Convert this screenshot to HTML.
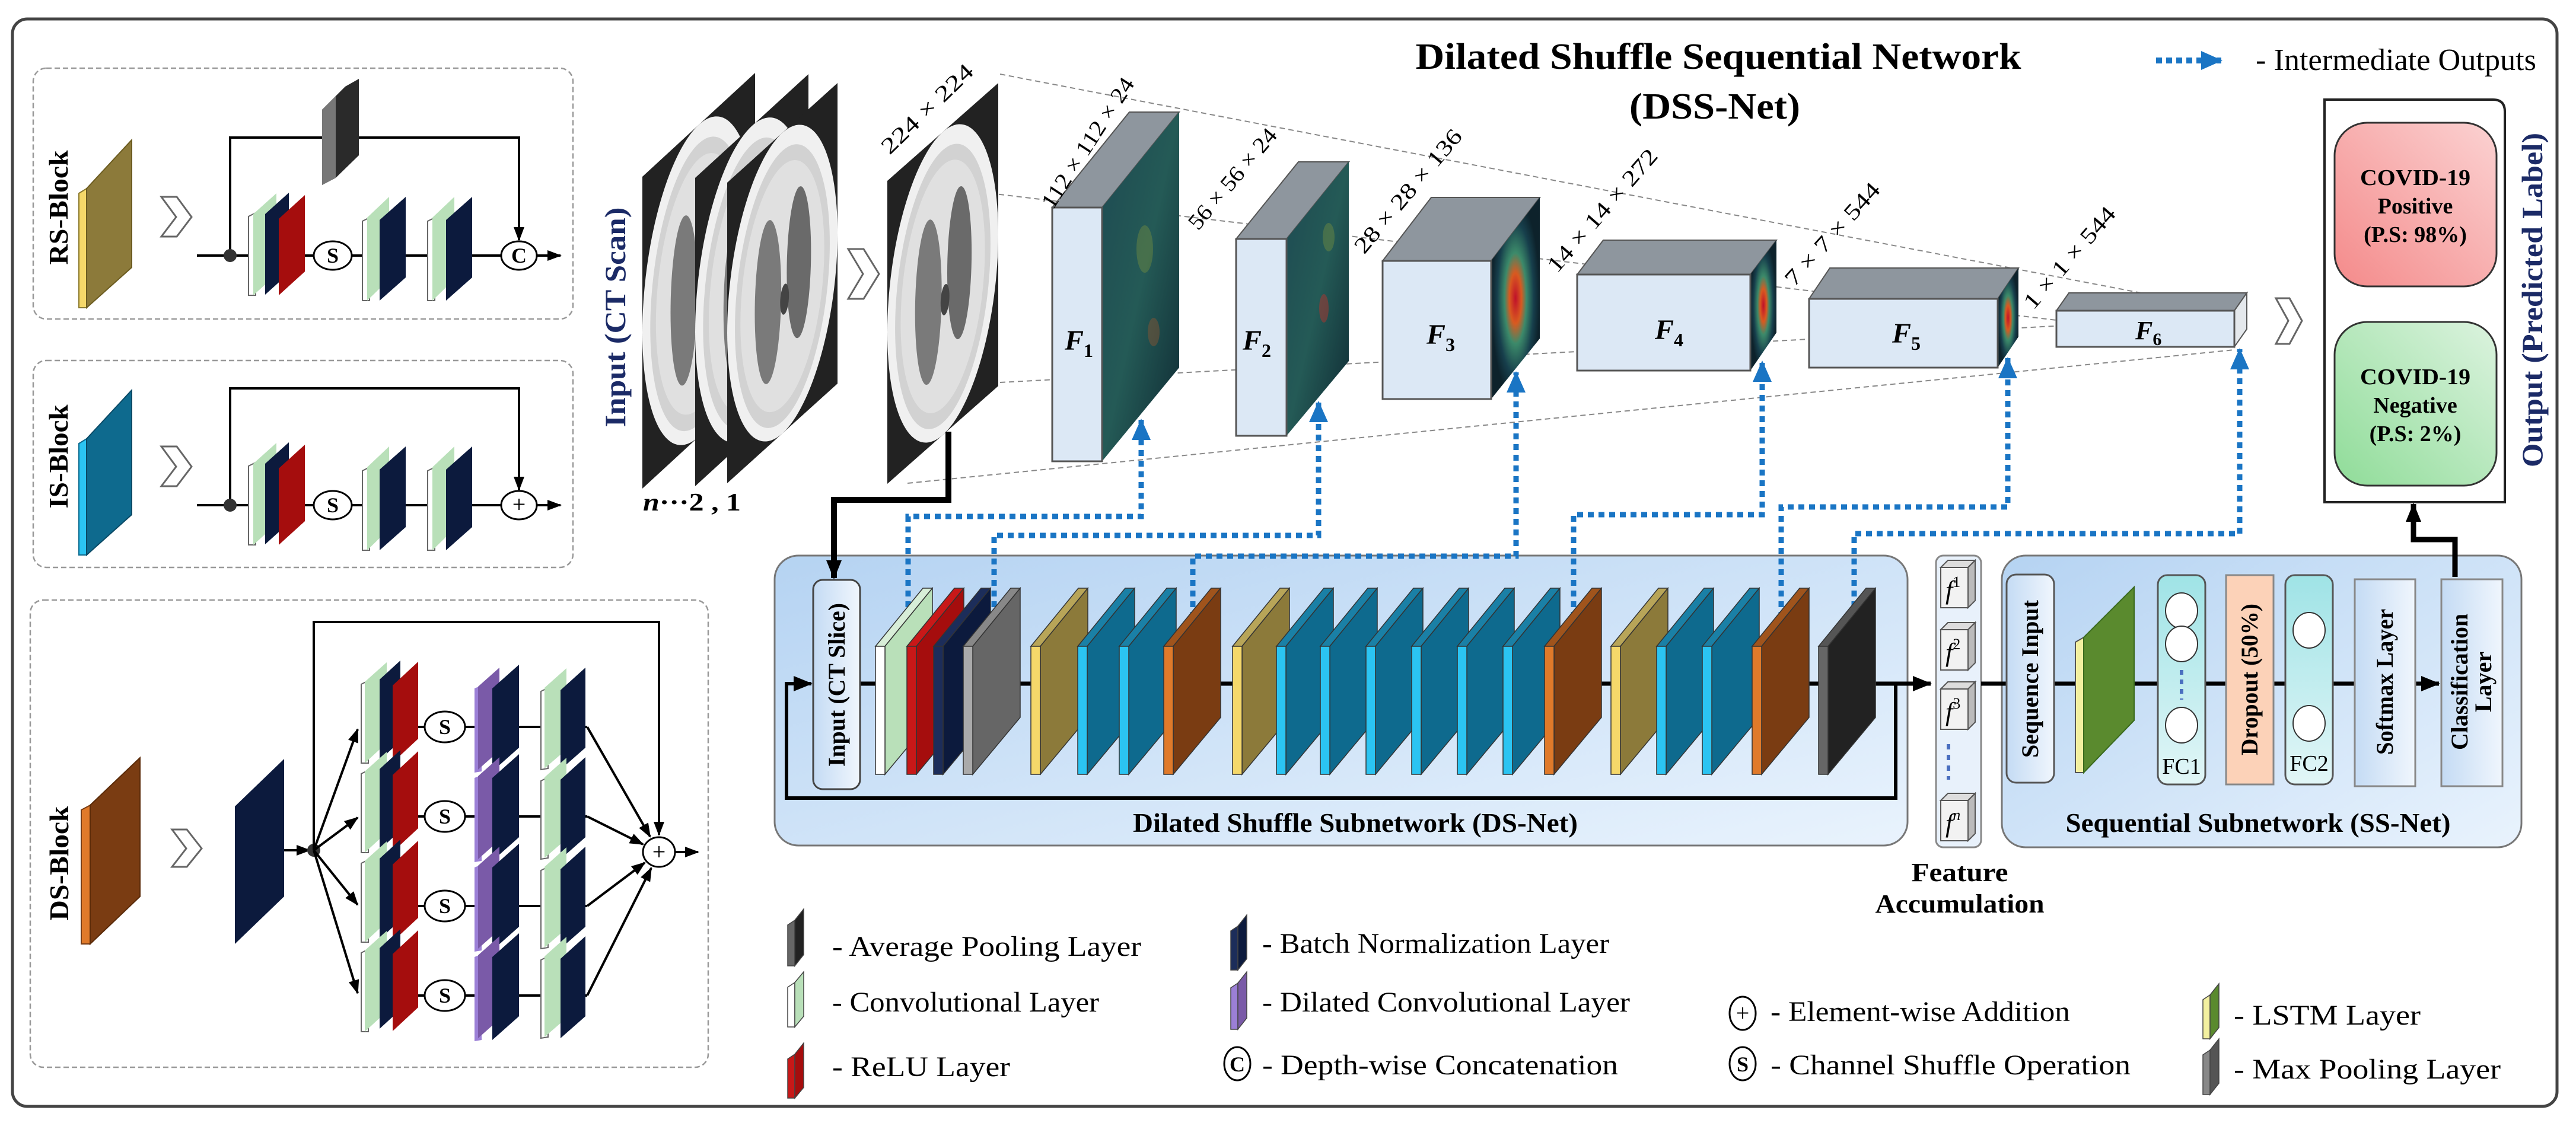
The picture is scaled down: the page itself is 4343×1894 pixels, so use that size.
<!DOCTYPE html>
<html><head><meta charset="utf-8"><style>
html,body{margin:0;padding:0;background:#fff}
svg{display:block}
svg, text{font-family:"Liberation Serif","DejaVu Serif",serif !important}
.b{font-weight:bold}
</style></head><body>
<svg width="4343" height="1894" viewBox="0 0 4343 1894" xmlns="http://www.w3.org/2000/svg" font-family="Liberation Serif, serif">
<defs>
<marker id="ah" markerWidth="34" markerHeight="30" refX="30" refY="15" orient="auto" markerUnits="userSpaceOnUse"><path d="M0,2 L32,15 L0,28 z" fill="#000"/></marker>
<marker id="as" markerWidth="26" markerHeight="22" refX="22" refY="11" orient="auto" markerUnits="userSpaceOnUse"><path d="M0,2 L24,11 L0,20 z" fill="#000"/></marker>
<marker id="ab" markerWidth="40" markerHeight="36" refX="34" refY="18" orient="auto" markerUnits="userSpaceOnUse"><path d="M0,2 L36,18 L0,34 z" fill="#1a75c4"/></marker>
<linearGradient id="pan" x1="0" y1="0" x2="1" y2="1"><stop offset="0" stop-color="#b5d3f2"/><stop offset="1" stop-color="#e9f3fd"/></linearGradient>
<linearGradient id="box" x1="0" y1="0" x2="1" y2="0"><stop offset="0" stop-color="#c4dbf4"/><stop offset="1" stop-color="#f0f6fd"/></linearGradient>
<linearGradient id="fc" x1="0" y1="0" x2="0" y2="1"><stop offset="0" stop-color="#9fe3e6"/><stop offset="1" stop-color="#e2f6f7"/></linearGradient>
<linearGradient id="pos" x1="0" y1="1" x2="1" y2="0"><stop offset="0" stop-color="#f48a8a"/><stop offset="1" stop-color="#fbd2d2"/></linearGradient>
<linearGradient id="neg" x1="0" y1="1" x2="1" y2="0"><stop offset="0" stop-color="#8fdc98"/><stop offset="1" stop-color="#dcf3df"/></linearGradient>
<radialGradient id="hm" cx="0.5" cy="0.5" r="0.5"><stop offset="0" stop-color="#c0102a"/><stop offset="0.25" stop-color="#d85a20"/><stop offset="0.45" stop-color="#3c8a6a"/><stop offset="0.75" stop-color="#173f4c"/><stop offset="1" stop-color="#0d222b"/></radialGradient>
<linearGradient id="hd" x1="0" y1="0" x2="1" y2="1"><stop offset="0" stop-color="#1e4a52"/><stop offset="0.5" stop-color="#245a56"/><stop offset="1" stop-color="#0f2a33"/></linearGradient>
<g id="ct">
<rect width="100" height="100" fill="#222"/>
<ellipse cx="50" cy="50" rx="50" ry="50" fill="#f0f0f0"/>
<ellipse cx="50" cy="51" rx="43" ry="45" fill="#d2d2d2"/>
<ellipse cx="50" cy="51" rx="38" ry="40" fill="#e0e0e0"/>
<ellipse cx="37" cy="52" rx="12" ry="27" fill="#7a7a7a"/>
<ellipse cx="65" cy="48" rx="11" ry="25" fill="#6a6a6a"/>
<ellipse cx="52" cy="56" rx="4" ry="5" fill="#444"/>
</g>
</defs>

<rect x="21" y="32" width="4290" height="1834" rx="25" fill="#fff" stroke="#444" stroke-width="5"/>

<rect x="56" y="115" width="910" height="423" rx="22" fill="#fff" stroke="#999" stroke-width="2.5" stroke-dasharray="9 5"/>
<rect x="56" y="608" width="910" height="349" rx="22" fill="#fff" stroke="#999" stroke-width="2.5" stroke-dasharray="9 5"/>
<rect x="51" y="1012" width="1143" height="788" rx="22" fill="#fff" stroke="#999" stroke-width="2.5" stroke-dasharray="9 5"/>

<text class="b" font-size="46" transform="translate(114,350) rotate(-90)" text-anchor="middle" textLength="193" lengthAdjust="spacingAndGlyphs">RS-Block</text>
<text class="b" font-size="46" transform="translate(114,770) rotate(-90)" text-anchor="middle" textLength="175" lengthAdjust="spacingAndGlyphs">IS-Block</text>
<text class="b" font-size="46" transform="translate(115,1456) rotate(-90)" text-anchor="middle" textLength="193" lengthAdjust="spacingAndGlyphs">DS-Block</text>

<polygon points="133,326 146,318 146,519 133,519" fill="#f5d86a" stroke="#8a7a30" stroke-width="2"/>
<polygon points="146,318 222,236 222,451 146,519" fill="#8c7a3a" stroke="#6c5c20" stroke-width="2"/>
<polygon points="133,748 146,740 146,936 133,936" fill="#2bc4f2" stroke="#0e6a8e" stroke-width="2"/>
<polygon points="146,740 222,658 222,868 146,936" fill="#0e6a8e" stroke="#0a4a66" stroke-width="2"/>
<polygon points="137,1366 152,1358 152,1592 137,1592" fill="#e07a2a" stroke="#7a3c12" stroke-width="2"/>
<polygon points="152,1358 236,1278 236,1512 152,1592" fill="#7a3c12" stroke="#5a2a08" stroke-width="2"/>

<polygon points="272,332 298,332 323,366 298,399 272,399 297,366" fill="#fff" stroke="#666" stroke-width="3"/>
<polygon points="272,753 298,753 323,787 298,820 272,820 297,787" fill="#fff" stroke="#666" stroke-width="3"/>
<polygon points="290,1399 315,1399 340,1431 315,1462 290,1462 314,1431" fill="#fff" stroke="#666" stroke-width="3"/>

<g>
<line x1="332" y1="431" x2="945" y2="431" stroke="#000" stroke-width="4" marker-end="url(#as)"/>
<path d="M388 431 V232 H875 V405" fill="none" stroke="#000" stroke-width="4" marker-end="url(#as)"/>
<circle cx="388" cy="431" r="11" fill="#333"/>
<polygon points="543,185 582,146 605,133 605,262 566,300 543,312" fill="#2a2a2a"/>
<polygon points="543,185 566,162 566,300 543,312" fill="#777"/>
<g transform="translate(0,431)">
<polygon points="419,-66 431,-72 431,67 419,67" fill="#fff" stroke="#666" stroke-width="2"/>
<polygon points="427,-70 466,-105 466,32 427,67" fill="#b9e0b9"/>
<polygon points="447,-70 487,-106 487,30 447,66" fill="#0c1a3d"/>
<polygon points="470,-62 514,-102 514,27 470,67" fill="#a50d0d"/>
<ellipse cx="561" cy="0" rx="32" ry="24" fill="#fff" stroke="#000" stroke-width="3"/>
<text class="b" x="561" y="12" font-size="36" text-anchor="middle">S</text>
<polygon points="611,-58 623,-64 623,76 611,76" fill="#fff" stroke="#666" stroke-width="2"/>
<polygon points="619,-64 656,-99 656,40 619,76" fill="#b9e0b9"/>
<polygon points="640,-60 684,-99 684,37 640,76" fill="#0c1a3d"/>
<polygon points="721,-58 733,-64 733,76 721,76" fill="#fff" stroke="#666" stroke-width="2"/>
<polygon points="729,-64 766,-99 766,40 729,76" fill="#b9e0b9"/>
<polygon points="752,-60 796,-99 796,37 752,76" fill="#0c1a3d"/>
<ellipse cx="875" cy="0" rx="30" ry="24" fill="#fff" stroke="#000" stroke-width="3"/>
<text class="b" x="875" y="12" font-size="36" text-anchor="middle">C</text>
</g>
</g>

<g>
<line x1="332" y1="852" x2="945" y2="852" stroke="#000" stroke-width="4" marker-end="url(#as)"/>
<path d="M388 852 V655 H875 V826" fill="none" stroke="#000" stroke-width="4" marker-end="url(#as)"/>
<circle cx="388" cy="852" r="11" fill="#333"/>
<g transform="translate(0,852)">
<polygon points="419,-66 431,-72 431,67 419,67" fill="#fff" stroke="#666" stroke-width="2"/>
<polygon points="427,-70 466,-105 466,32 427,67" fill="#b9e0b9"/>
<polygon points="447,-70 487,-106 487,30 447,66" fill="#0c1a3d"/>
<polygon points="470,-62 514,-102 514,27 470,67" fill="#a50d0d"/>
<ellipse cx="561" cy="0" rx="32" ry="24" fill="#fff" stroke="#000" stroke-width="3"/>
<text class="b" x="561" y="12" font-size="36" text-anchor="middle">S</text>
<polygon points="611,-58 623,-64 623,76 611,76" fill="#fff" stroke="#666" stroke-width="2"/>
<polygon points="619,-64 656,-99 656,40 619,76" fill="#b9e0b9"/>
<polygon points="640,-60 684,-99 684,37 640,76" fill="#0c1a3d"/>
<polygon points="721,-58 733,-64 733,76 721,76" fill="#fff" stroke="#666" stroke-width="2"/>
<polygon points="729,-64 766,-99 766,40 729,76" fill="#b9e0b9"/>
<polygon points="752,-60 796,-99 796,37 752,76" fill="#0c1a3d"/>
<ellipse cx="875" cy="0" rx="30" ry="24" fill="#fff" stroke="#000" stroke-width="3"/>
<text x="875" y="12" font-size="40" text-anchor="middle">+</text>
</g>
</g>

<g>
<polygon points="396,1360 479,1280 479,1512 396,1592" fill="#0c1a3d"/>
<line x1="479" y1="1434" x2="522" y2="1434" stroke="#000" stroke-width="4" marker-end="url(#as)"/>
<circle cx="529" cy="1434" r="11" fill="#333"/>
<path d="M529 1434 V1049 H1111 V1408" fill="none" stroke="#000" stroke-width="4" marker-end="url(#as)"/>
<line x1="529" y1="1434" x2="603" y2="1230" stroke="#000" stroke-width="4" marker-end="url(#as)"/>
<line x1="529" y1="1434" x2="603" y2="1379" stroke="#000" stroke-width="4" marker-end="url(#as)"/>
<line x1="529" y1="1434" x2="603" y2="1526" stroke="#000" stroke-width="4" marker-end="url(#as)"/>
<line x1="529" y1="1434" x2="603" y2="1675" stroke="#000" stroke-width="4" marker-end="url(#as)"/>
<line x1="990" y1="1226" x2="1096" y2="1411" stroke="#000" stroke-width="4" marker-end="url(#as)"/>
<line x1="990" y1="1377" x2="1084" y2="1424" stroke="#000" stroke-width="4" marker-end="url(#as)"/>
<line x1="990" y1="1528" x2="1087" y2="1455" stroke="#000" stroke-width="4" marker-end="url(#as)"/>
<line x1="990" y1="1679" x2="1098" y2="1464" stroke="#000" stroke-width="4" marker-end="url(#as)"/>
<line x1="1137" y1="1437" x2="1177" y2="1437" stroke="#000" stroke-width="4" marker-end="url(#as)"/>
<ellipse cx="1111" cy="1437" rx="27" ry="25" fill="#fff" stroke="#000" stroke-width="3"/>
<text x="1111" y="1450" font-size="40" text-anchor="middle">+</text>

<g transform="translate(0,1226)"><line x1="620" y1="0" x2="990" y2="0" stroke="#000" stroke-width="4"/>
<polygon points="609,-72 621,-78 621,61 609,61" fill="#fff" stroke="#666" stroke-width="2"/><polygon points="615,-76 652,-109 652,27 615,61" fill="#b9e0b9"/><polygon points="640,-80 675,-112 675,24 640,56" fill="#0c1a3d"/><polygon points="662,-70 705,-110 705,20 662,60" fill="#a50d0d"/>
<ellipse cx="750" cy="0" rx="34" ry="26" fill="#fff" stroke="#000" stroke-width="3"/><text class="b" x="750" y="12" font-size="36" text-anchor="middle">S</text>
<polygon points="800,-65 812,-70 812,75 800,77" fill="#9b7fd6"/><polygon points="806,-68 842,-100 842,40 806,72" fill="#7a5aa8"/><polygon points="830,-65 875,-105 875,35 830,75" fill="#0c1a3d"/>
<polygon points="912,-60 924,-66 924,70 912,72" fill="#fff" stroke="#666" stroke-width="2"/><polygon points="918,-66 955,-99 955,38 918,70" fill="#b9e0b9"/><polygon points="945,-62 987,-100 987,35 945,72" fill="#0c1a3d"/></g>
<g transform="translate(0,1377)"><line x1="620" y1="0" x2="990" y2="0" stroke="#000" stroke-width="4"/>
<polygon points="609,-72 621,-78 621,61 609,61" fill="#fff" stroke="#666" stroke-width="2"/><polygon points="615,-76 652,-109 652,27 615,61" fill="#b9e0b9"/><polygon points="640,-80 675,-112 675,24 640,56" fill="#0c1a3d"/><polygon points="662,-70 705,-110 705,20 662,60" fill="#a50d0d"/>
<ellipse cx="750" cy="0" rx="34" ry="26" fill="#fff" stroke="#000" stroke-width="3"/><text class="b" x="750" y="12" font-size="36" text-anchor="middle">S</text>
<polygon points="800,-65 812,-70 812,75 800,77" fill="#9b7fd6"/><polygon points="806,-68 842,-100 842,40 806,72" fill="#7a5aa8"/><polygon points="830,-65 875,-105 875,35 830,75" fill="#0c1a3d"/>
<polygon points="912,-60 924,-66 924,70 912,72" fill="#fff" stroke="#666" stroke-width="2"/><polygon points="918,-66 955,-99 955,38 918,70" fill="#b9e0b9"/><polygon points="945,-62 987,-100 987,35 945,72" fill="#0c1a3d"/></g>
<g transform="translate(0,1528)"><line x1="620" y1="0" x2="990" y2="0" stroke="#000" stroke-width="4"/>
<polygon points="609,-72 621,-78 621,61 609,61" fill="#fff" stroke="#666" stroke-width="2"/><polygon points="615,-76 652,-109 652,27 615,61" fill="#b9e0b9"/><polygon points="640,-80 675,-112 675,24 640,56" fill="#0c1a3d"/><polygon points="662,-70 705,-110 705,20 662,60" fill="#a50d0d"/>
<ellipse cx="750" cy="0" rx="34" ry="26" fill="#fff" stroke="#000" stroke-width="3"/><text class="b" x="750" y="12" font-size="36" text-anchor="middle">S</text>
<polygon points="800,-65 812,-70 812,75 800,77" fill="#9b7fd6"/><polygon points="806,-68 842,-100 842,40 806,72" fill="#7a5aa8"/><polygon points="830,-65 875,-105 875,35 830,75" fill="#0c1a3d"/>
<polygon points="912,-60 924,-66 924,70 912,72" fill="#fff" stroke="#666" stroke-width="2"/><polygon points="918,-66 955,-99 955,38 918,70" fill="#b9e0b9"/><polygon points="945,-62 987,-100 987,35 945,72" fill="#0c1a3d"/></g>
<g transform="translate(0,1679)"><line x1="620" y1="0" x2="990" y2="0" stroke="#000" stroke-width="4"/>
<polygon points="609,-72 621,-78 621,61 609,61" fill="#fff" stroke="#666" stroke-width="2"/><polygon points="615,-76 652,-109 652,27 615,61" fill="#b9e0b9"/><polygon points="640,-80 675,-112 675,24 640,56" fill="#0c1a3d"/><polygon points="662,-70 705,-110 705,20 662,60" fill="#a50d0d"/>
<ellipse cx="750" cy="0" rx="34" ry="26" fill="#fff" stroke="#000" stroke-width="3"/><text class="b" x="750" y="12" font-size="36" text-anchor="middle">S</text>
<polygon points="800,-65 812,-70 812,75 800,77" fill="#9b7fd6"/><polygon points="806,-68 842,-100 842,40 806,72" fill="#7a5aa8"/><polygon points="830,-65 875,-105 875,35 830,75" fill="#0c1a3d"/>
<polygon points="912,-60 924,-66 924,70 912,72" fill="#fff" stroke="#666" stroke-width="2"/><polygon points="918,-66 955,-99 955,38 918,70" fill="#b9e0b9"/><polygon points="945,-62 987,-100 987,35 945,72" fill="#0c1a3d"/></g>
</g>

<text class="b" font-size="50" fill="#1b2a66" transform="translate(1054,535) rotate(-90)" text-anchor="middle" textLength="371" lengthAdjust="spacingAndGlyphs">Input (CT Scan)</text>
<use href="#ct" transform="matrix(1.9,-1.75,0,5.26,1083,298)"/>
<use href="#ct" transform="matrix(1.91,-1.75,0,5.2,1172,300)"/>
<use href="#ct" transform="matrix(1.86,-1.68,0,5.07,1226,308)"/>
<text class="b" x="1084" y="861" font-size="42" textLength="165" lengthAdjust="spacingAndGlyphs"><tspan font-style="italic">n</tspan>···2 , 1</text>
<polygon points="1430,420 1456,420 1482,462 1456,504 1430,504 1455,462" fill="#fff" stroke="#666" stroke-width="3"/>

<g stroke="#888" stroke-width="2" stroke-dasharray="9 6">
<line x1="1686" y1="125" x2="3620" y2="496"/>
<line x1="1535" y1="310" x2="3467" y2="540"/>
<line x1="1686" y1="645" x2="3500" y2="548"/>
<line x1="1530" y1="815" x2="3767" y2="590"/>
</g>
<use href="#ct" transform="matrix(1.87,-1.65,0,5.11,1496,305)"/>
<text font-size="38" transform="translate(1500,262) rotate(-44)" textLength="200" lengthAdjust="spacingAndGlyphs">224 × 224</text>

<polygon points="1774,350 1858,350 1988,189 1904,189" fill="#8e969e" stroke="#555" stroke-width="2"/>
<polygon points="1858,350 1988,189 1988,620 1858,778" fill="url(#hd)"/>
<ellipse cx="1930" cy="420" rx="14" ry="40" fill="#8a9a3a" opacity="0.35"/>
<ellipse cx="1945" cy="560" rx="10" ry="24" fill="#b05a2a" opacity="0.35"/>
<rect x="1774" y="350" width="84" height="428" fill="#dce8f5" stroke="#555" stroke-width="3"/>
<text class="b" font-style="italic" x="1795" y="590" font-size="48">F<tspan font-size="32" dy="12" font-style="normal">1</tspan></text>
<text font-size="38" transform="translate(1775,355) rotate(-57)" textLength="255" lengthAdjust="spacingAndGlyphs">112 × 112 × 24</text>
<polygon points="2084,403 2169,403 2274,273 2189,273" fill="#8e969e" stroke="#555" stroke-width="2"/>
<polygon points="2169,403 2274,273 2274,609 2169,735" fill="url(#hd)"/>
<ellipse cx="2232" cy="520" rx="8" ry="24" fill="#c0302a" opacity="0.45"/>
<ellipse cx="2240" cy="400" rx="10" ry="24" fill="#8a9a3a" opacity="0.35"/>
<rect x="2084" y="403" width="85" height="332" fill="#dce8f5" stroke="#555" stroke-width="3"/>
<text class="b" font-style="italic" x="2095" y="590" font-size="48">F<tspan font-size="32" dy="12" font-style="normal">2</tspan></text>
<text font-size="38" transform="translate(2020,390) rotate(-50)" textLength="210" lengthAdjust="spacingAndGlyphs">56 × 56 × 24</text>
<polygon points="2331,440 2514,440 2596,333 2413,333" fill="#8e969e" stroke="#555" stroke-width="2"/>
<polygon points="2514,440 2596,333 2596,571 2514,673" fill="url(#hm)"/>
<rect x="2331" y="440" width="183" height="233" fill="#dce8f5" stroke="#555" stroke-width="3"/>
<text class="b" font-style="italic" x="2405" y="580" font-size="48">F<tspan font-size="32" dy="12" font-style="normal">3</tspan></text>
<text font-size="38" transform="translate(2300,430) rotate(-50)" textLength="260" lengthAdjust="spacingAndGlyphs">28 × 28 × 136</text>
<polygon points="2659,463 2951,463 2995,405 2703,405" fill="#8e969e" stroke="#555" stroke-width="2"/>
<polygon points="2951,463 2995,405 2995,561 2951,625" fill="url(#hm)"/>
<rect x="2659" y="463" width="292" height="162" fill="#dce8f5" stroke="#555" stroke-width="3"/>
<text class="b" font-style="italic" x="2790" y="572" font-size="48">F<tspan font-size="32" dy="12" font-style="normal">4</tspan></text>
<text font-size="38" transform="translate(2625,462) rotate(-49)" textLength="262" lengthAdjust="spacingAndGlyphs">14 × 14 × 272</text>
<polygon points="3050,504 3368,504 3403,452 3085,452" fill="#8e969e" stroke="#555" stroke-width="2"/>
<polygon points="3368,504 3403,452 3403,568 3368,620" fill="url(#hm)"/>
<rect x="3050" y="504" width="318" height="116" fill="#dce8f5" stroke="#555" stroke-width="3"/>
<text class="b" font-style="italic" x="3190" y="578" font-size="48">F<tspan font-size="32" dy="12" font-style="normal">5</tspan></text>
<text font-size="38" transform="translate(3025,485) rotate(-48)" textLength="220" lengthAdjust="spacingAndGlyphs">7 × 7 × 544</text>
<polygon points="3467,524 3767,524 3788,494 3488,494" fill="#8e969e" stroke="#555" stroke-width="2"/>
<polygon points="3767,524 3788,494 3788,555 3767,585" fill="#e4e8ec" stroke="#555" stroke-width="2"/>
<rect x="3467" y="524" width="300" height="61" fill="#dce8f5" stroke="#555" stroke-width="3"/>
<text class="b" font-style="italic" x="3600" y="572" font-size="44">F<tspan font-size="30" dy="10" font-style="normal">6</tspan></text>
<text font-size="38" transform="translate(3428,524) rotate(-49)" textLength="215" lengthAdjust="spacingAndGlyphs">1 × 1 × 544</text>
<polygon points="3837,503 3860,503 3881,541 3860,580 3837,580 3858,541" fill="#fff" stroke="#666" stroke-width="3"/>

<text class="b" x="2897" y="116" font-size="62" text-anchor="middle" textLength="1021" lengthAdjust="spacingAndGlyphs">Dilated Shuffle Sequential Network</text>
<text class="b" x="2891" y="200" font-size="62" text-anchor="middle" textLength="288" lengthAdjust="spacingAndGlyphs">(DSS-Net)</text>
<line x1="3635" y1="102" x2="3745" y2="102" stroke="#1a75c4" stroke-width="10" stroke-dasharray="10 7" marker-end="url(#ab)"/>
<text x="3803" y="118" font-size="52" textLength="473" lengthAdjust="spacingAndGlyphs">- Intermediate Outputs</text>

<path d="M3919 168 H4203 Q4223 168 4223 188 V847 H3919 Z" fill="#fff" stroke="#222" stroke-width="4"/>
<rect x="3936" y="207" width="273" height="276" rx="55" fill="url(#pos)" stroke="#333" stroke-width="3"/>
<rect x="3936" y="543" width="273" height="276" rx="55" fill="url(#neg)" stroke="#333" stroke-width="3"/>
<g class="b" font-size="38" text-anchor="middle">
<text x="4072" y="312" class="b" textLength="186" lengthAdjust="spacingAndGlyphs">COVID-19</text>
<text x="4072" y="360" class="b">Positive</text>
<text x="4072" y="408" class="b">(P.S: 98%)</text>
<text x="4072" y="648" class="b" textLength="186" lengthAdjust="spacingAndGlyphs">COVID-19</text>
<text x="4072" y="696" class="b">Negative</text>
<text x="4072" y="744" class="b">(P.S: 2%)</text>
</g>
<text class="b" font-size="50" fill="#1b2a66" transform="translate(4286,506) rotate(-90)" text-anchor="middle" textLength="564" lengthAdjust="spacingAndGlyphs">Output (Predicted Label)</text>

<rect x="1306" y="937" width="1910" height="489" rx="40" fill="url(#pan)" stroke="#777" stroke-width="3"/>
<rect x="3264" y="937" width="76" height="492" rx="12" fill="#e8f1fb" stroke="#888" stroke-width="3"/>
<rect x="3375" y="937" width="876" height="492" rx="40" fill="url(#pan)" stroke="#777" stroke-width="3"/>

<path d="M1599 728 V843 H1406 V975" fill="none" stroke="#000" stroke-width="10" marker-end="url(#ah)"/>
<path d="M4139 973 V910 H4069 V850" fill="none" stroke="#000" stroke-width="9" marker-end="url(#ah)"/>

<g fill="none" stroke="#1a75c4" stroke-width="9" stroke-dasharray="10 8">
<path d="M1531 1060 V871 H1924 V708" marker-end="url(#ab)"/>
<path d="M1676 1060 V903 H2223 V678" marker-end="url(#ab)"/>
<path d="M2011 1060 V938 H2556 V628" marker-end="url(#ab)"/>
<path d="M2653 1060 V868 H2971 V610" marker-end="url(#ab)"/>
<path d="M3003 1060 V855 H3385 V604" marker-end="url(#ab)"/>
<path d="M3126 1060 V900 H3776 V589" marker-end="url(#ab)"/>
</g>

<path d="M1449 1153 H3255" fill="none" stroke="#000" stroke-width="7" marker-end="url(#ah)"/>
<path d="M3196 1153 V1346 H1326 V1153 H1368" fill="none" stroke="#000" stroke-width="6" marker-end="url(#ah)"/>
<rect x="1371" y="978" width="79" height="353" rx="16" fill="url(#box)" stroke="#444" stroke-width="3"/>
<text class="b" font-size="40" transform="translate(1424,1155) rotate(-90)" text-anchor="middle" textLength="276" lengthAdjust="spacingAndGlyphs">Input (CT Slice)</text>

<g stroke="#333" stroke-width="1.5">
<g transform="translate(1476,0)"><polygon points="0,1090 80,992 96,992 16,1090" fill="#d8eed8"/><polygon points="16,1090 96,992 96,1210 16,1306" fill="#b9e0b9"/><rect x="0" y="1090" width="16" height="216" fill="#fff"/></g>
<g transform="translate(1529,0)"><polygon points="0,1090 80,992 96,992 16,1090" fill="#c81818"/><polygon points="16,1090 96,992 96,1210 16,1306" fill="#a50d0d"/><rect x="0" y="1090" width="16" height="216" fill="#c81818"/></g>
<g transform="translate(1574,0)"><polygon points="0,1090 80,992 96,992 16,1090" fill="#1c2d5a"/><polygon points="16,1090 96,992 96,1210 16,1306" fill="#0c1a3d"/><rect x="0" y="1090" width="16" height="216" fill="#1c2d5a"/></g>
<g transform="translate(1624,0)"><polygon points="0,1090 80,992 96,992 16,1090" fill="#888"/><polygon points="16,1090 96,992 96,1210 16,1306" fill="#666"/><rect x="0" y="1090" width="16" height="216" fill="#aaa"/></g>
<g transform="translate(1738,0)"><polygon points="0,1090 80,992 96,992 16,1090" fill="#b8a558"/><polygon points="16,1090 96,992 96,1210 16,1306" fill="#8c7a3a"/><rect x="0" y="1090" width="16" height="216" fill="#f5d86a"/></g>
<g transform="translate(1817,0)"><polygon points="0,1090 80,992 96,992 16,1090" fill="#1a80a6"/><polygon points="16,1090 96,992 96,1210 16,1306" fill="#0e6a8e"/><rect x="0" y="1090" width="16" height="216" fill="#2bc4f2"/></g>
<g transform="translate(1887,0)"><polygon points="0,1090 80,992 96,992 16,1090" fill="#1a80a6"/><polygon points="16,1090 96,992 96,1210 16,1306" fill="#0e6a8e"/><rect x="0" y="1090" width="16" height="216" fill="#2bc4f2"/></g>
<g transform="translate(1962,0)"><polygon points="0,1090 80,992 96,992 16,1090" fill="#a0541c"/><polygon points="16,1090 96,992 96,1210 16,1306" fill="#7a3c12"/><rect x="0" y="1090" width="16" height="216" fill="#e07a2a"/></g>
<g transform="translate(2078,0)"><polygon points="0,1090 80,992 96,992 16,1090" fill="#b8a558"/><polygon points="16,1090 96,992 96,1210 16,1306" fill="#8c7a3a"/><rect x="0" y="1090" width="16" height="216" fill="#f5d86a"/></g>
<g transform="translate(2152,0)"><polygon points="0,1090 80,992 96,992 16,1090" fill="#1a80a6"/><polygon points="16,1090 96,992 96,1210 16,1306" fill="#0e6a8e"/><rect x="0" y="1090" width="16" height="216" fill="#2bc4f2"/></g>
<g transform="translate(2226,0)"><polygon points="0,1090 80,992 96,992 16,1090" fill="#1a80a6"/><polygon points="16,1090 96,992 96,1210 16,1306" fill="#0e6a8e"/><rect x="0" y="1090" width="16" height="216" fill="#2bc4f2"/></g>
<g transform="translate(2303,0)"><polygon points="0,1090 80,992 96,992 16,1090" fill="#1a80a6"/><polygon points="16,1090 96,992 96,1210 16,1306" fill="#0e6a8e"/><rect x="0" y="1090" width="16" height="216" fill="#2bc4f2"/></g>
<g transform="translate(2380,0)"><polygon points="0,1090 80,992 96,992 16,1090" fill="#1a80a6"/><polygon points="16,1090 96,992 96,1210 16,1306" fill="#0e6a8e"/><rect x="0" y="1090" width="16" height="216" fill="#2bc4f2"/></g>
<g transform="translate(2457,0)"><polygon points="0,1090 80,992 96,992 16,1090" fill="#1a80a6"/><polygon points="16,1090 96,992 96,1210 16,1306" fill="#0e6a8e"/><rect x="0" y="1090" width="16" height="216" fill="#2bc4f2"/></g>
<g transform="translate(2534,0)"><polygon points="0,1090 80,992 96,992 16,1090" fill="#1a80a6"/><polygon points="16,1090 96,992 96,1210 16,1306" fill="#0e6a8e"/><rect x="0" y="1090" width="16" height="216" fill="#2bc4f2"/></g>
<g transform="translate(2604,0)"><polygon points="0,1090 80,992 96,992 16,1090" fill="#a0541c"/><polygon points="16,1090 96,992 96,1210 16,1306" fill="#7a3c12"/><rect x="0" y="1090" width="16" height="216" fill="#e07a2a"/></g>
<g transform="translate(2716,0)"><polygon points="0,1090 80,992 96,992 16,1090" fill="#b8a558"/><polygon points="16,1090 96,992 96,1210 16,1306" fill="#8c7a3a"/><rect x="0" y="1090" width="16" height="216" fill="#f5d86a"/></g>
<g transform="translate(2793,0)"><polygon points="0,1090 80,992 96,992 16,1090" fill="#1a80a6"/><polygon points="16,1090 96,992 96,1210 16,1306" fill="#0e6a8e"/><rect x="0" y="1090" width="16" height="216" fill="#2bc4f2"/></g>
<g transform="translate(2870,0)"><polygon points="0,1090 80,992 96,992 16,1090" fill="#1a80a6"/><polygon points="16,1090 96,992 96,1210 16,1306" fill="#0e6a8e"/><rect x="0" y="1090" width="16" height="216" fill="#2bc4f2"/></g>
<g transform="translate(2954,0)"><polygon points="0,1090 80,992 96,992 16,1090" fill="#a0541c"/><polygon points="16,1090 96,992 96,1210 16,1306" fill="#7a3c12"/><rect x="0" y="1090" width="16" height="216" fill="#e07a2a"/></g>
<g transform="translate(3066,0)"><polygon points="0,1090 80,992 96,992 16,1090" fill="#555"/><polygon points="16,1090 96,992 96,1210 16,1306" fill="#222"/><rect x="0" y="1090" width="16" height="216" fill="#666"/></g>
</g>
<text class="b" x="2285" y="1403" font-size="46" text-anchor="middle" textLength="750" lengthAdjust="spacingAndGlyphs">Dilated Shuffle Subnetwork (DS-Net)</text>

<g stroke="#555" stroke-width="2">
<g transform="translate(3272,945)"><polygon points="0,12 12,0 58,0 46,12" fill="#ddd"/><polygon points="46,12 58,0 58,68 46,80" fill="#bbb"/><rect x="0" y="12" width="46" height="68" fill="#f2f2f2"/></g>
<g transform="translate(3272,1050)"><polygon points="0,12 12,0 58,0 46,12" fill="#ddd"/><polygon points="46,12 58,0 58,68 46,80" fill="#bbb"/><rect x="0" y="12" width="46" height="68" fill="#f2f2f2"/></g>
<g transform="translate(3272,1150)"><polygon points="0,12 12,0 58,0 46,12" fill="#ddd"/><polygon points="46,12 58,0 58,68 46,80" fill="#bbb"/><rect x="0" y="12" width="46" height="68" fill="#f2f2f2"/></g>
<g transform="translate(3272,1338)"><polygon points="0,12 12,0 58,0 46,12" fill="#ddd"/><polygon points="46,12 58,0 58,68 46,80" fill="#bbb"/><rect x="0" y="12" width="46" height="68" fill="#f2f2f2"/></g>
</g>
<g font-size="44" font-style="italic">
<text x="3280" y="1010">f<tspan font-size="26" dy="-20" font-style="normal">1</tspan></text>
<text x="3280" y="1115">f<tspan font-size="26" dy="-20" font-style="normal">2</tspan></text>
<text x="3280" y="1215">f<tspan font-size="26" dy="-20" font-style="normal">3</tspan></text>
<text x="3280" y="1403">f<tspan font-size="26" dy="-20">n</tspan></text>
</g>
<line x1="3285" y1="1255" x2="3285" y2="1315" stroke="#4a6fc0" stroke-width="6" stroke-dasharray="9 9"/>
<text class="b" x="3304" y="1486" font-size="44" text-anchor="middle" textLength="163" lengthAdjust="spacingAndGlyphs">Feature</text>
<text class="b" x="3304" y="1539" font-size="44" text-anchor="middle" textLength="285" lengthAdjust="spacingAndGlyphs">Accumulation</text>

<path d="M3340 1153 H4112" fill="none" stroke="#000" stroke-width="7" marker-end="url(#ah)"/>
<rect x="3383" y="969" width="80" height="351" rx="16" fill="url(#box)" stroke="#555" stroke-width="3"/>
<text class="b" font-size="40" transform="translate(3436,1145) rotate(-90)" text-anchor="middle" textLength="266" lengthAdjust="spacingAndGlyphs">Sequence Input</text>
<polygon points="3499,1083 3513,1075 3513,1303 3499,1303" fill="#f3f0a0" stroke="#555" stroke-width="2"/>
<polygon points="3513,1075 3598,990 3598,1215 3513,1303" fill="#5a8a2e" stroke="#3a6a1e" stroke-width="2"/>
<rect x="3638" y="970" width="80" height="353" rx="16" fill="url(#fc)" stroke="#555" stroke-width="3"/>
<ellipse cx="3678" cy="1030" rx="27" ry="30" fill="#fff" stroke="#333" stroke-width="2"/>
<ellipse cx="3678" cy="1086" rx="27" ry="30" fill="#fff" stroke="#333" stroke-width="2"/>
<line x1="3678" y1="1130" x2="3678" y2="1180" stroke="#4a6fc0" stroke-width="6" stroke-dasharray="8 8"/>
<ellipse cx="3678" cy="1223" rx="27" ry="30" fill="#fff" stroke="#333" stroke-width="2"/>
<text x="3678" y="1305" font-size="38" text-anchor="middle">FC1</text>
<rect x="3753" y="970" width="80" height="353" fill="#fcd2b8" stroke="#888" stroke-width="3"/>
<text class="b" font-size="40" transform="translate(3806,1146) rotate(-90)" text-anchor="middle" textLength="256" lengthAdjust="spacingAndGlyphs">Dropout (50%)</text>
<rect x="3853" y="970" width="80" height="353" rx="16" fill="url(#fc)" stroke="#555" stroke-width="3"/>
<ellipse cx="3893" cy="1063" rx="27" ry="30" fill="#fff" stroke="#333" stroke-width="2"/>
<ellipse cx="3893" cy="1220" rx="27" ry="30" fill="#fff" stroke="#333" stroke-width="2"/>
<text x="3893" y="1300" font-size="38" text-anchor="middle">FC2</text>
<rect x="3970" y="977" width="102" height="349" fill="url(#box)" stroke="#888" stroke-width="3"/>
<text class="b" font-size="40" transform="translate(4034,1150) rotate(-90)" text-anchor="middle" textLength="246" lengthAdjust="spacingAndGlyphs">Softmax Layer</text>
<rect x="4116" y="977" width="103" height="349" fill="url(#box)" stroke="#888" stroke-width="3"/>
<text class="b" font-size="40" transform="translate(4160,1150) rotate(-90)" text-anchor="middle" textLength="230" lengthAdjust="spacingAndGlyphs">Classification</text>
<text class="b" font-size="40" transform="translate(4200,1150) rotate(-90)" text-anchor="middle">Layer</text>
<text class="b" x="3807" y="1403" font-size="46" text-anchor="middle" textLength="649" lengthAdjust="spacingAndGlyphs">Sequential Subnetwork (SS-Net)</text>

<g stroke="#444" stroke-width="1.5">
<polygon points="1328,1560 1340,1552 1340,1629 1328,1629" fill="#666"/><polygon points="1340,1552 1355,1533 1355,1610 1340,1629" fill="#222"/>
<polygon points="1328,1665 1340,1657 1340,1732 1328,1732" fill="#fff"/><polygon points="1340,1657 1355,1639 1355,1714 1340,1732" fill="#b9e0b9"/>
<polygon points="1328,1786 1340,1778 1340,1852 1328,1852" fill="#c81818"/><polygon points="1340,1778 1355,1759 1355,1834 1340,1852" fill="#a50d0d"/>
<polygon points="2075,1570 2087,1562 2087,1636 2075,1636" fill="#1c2d5a"/><polygon points="2087,1562 2102,1543 2102,1617 2087,1636" fill="#0c1a3d"/>
<polygon points="2075,1666 2087,1658 2087,1736 2075,1736" fill="#9b7fd6"/><polygon points="2087,1658 2102,1639 2102,1717 2087,1736" fill="#7a5aa8"/>
<polygon points="3714,1686 3726,1678 3726,1752 3714,1752" fill="#f3f0a0"/><polygon points="3726,1678 3741,1659 3741,1733 3726,1752" fill="#5a8a2e"/>
<polygon points="3714,1779 3726,1771 3726,1846 3714,1846" fill="#888"/><polygon points="3726,1771 3741,1752 3741,1827 3726,1846" fill="#555"/>
</g>
<ellipse cx="2086" cy="1794" rx="22" ry="28" fill="#fff" stroke="#000" stroke-width="3"/>
<text class="b" x="2086" y="1807" font-size="36" text-anchor="middle">C</text>
<ellipse cx="2938" cy="1709" rx="22" ry="28" fill="#fff" stroke="#000" stroke-width="3"/>
<text x="2938" y="1722" font-size="40" text-anchor="middle">+</text>
<ellipse cx="2938" cy="1794" rx="22" ry="28" fill="#fff" stroke="#000" stroke-width="3"/>
<text class="b" x="2938" y="1807" font-size="36" text-anchor="middle">S</text>
<g font-size="48">
<text x="1403" y="1612" textLength="521" lengthAdjust="spacingAndGlyphs">- Average Pooling Layer</text>
<text x="1403" y="1706" textLength="450" lengthAdjust="spacingAndGlyphs">- Convolutional Layer</text>
<text x="1403" y="1815" textLength="300" lengthAdjust="spacingAndGlyphs">- ReLU Layer</text>
<text x="2128" y="1607" textLength="585" lengthAdjust="spacingAndGlyphs">- Batch Normalization Layer</text>
<text x="2128" y="1706" textLength="620" lengthAdjust="spacingAndGlyphs">- Dilated Convolutional Layer</text>
<text x="2128" y="1812" textLength="600" lengthAdjust="spacingAndGlyphs">- Depth-wise Concatenation</text>
<text x="2985" y="1722" textLength="505" lengthAdjust="spacingAndGlyphs">- Element-wise Addition</text>
<text x="2985" y="1812" textLength="607" lengthAdjust="spacingAndGlyphs">- Channel Shuffle Operation</text>
<text x="3766" y="1728" textLength="315" lengthAdjust="spacingAndGlyphs">- LSTM Layer</text>
<text x="3766" y="1819" textLength="450" lengthAdjust="spacingAndGlyphs">- Max Pooling Layer</text>
</g>
</svg>
</body></html>
